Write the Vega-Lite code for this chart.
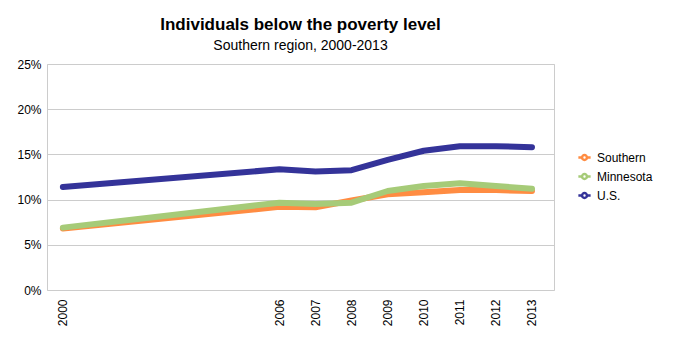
{
  "$schema": "https://vega.github.io/schema/vega-lite/v6.json",
  "autosize": {"type": "none"},
  "width": 507,
  "height": 226,
  "padding": {"left": 47, "top": 64, "right": 126, "bottom": 70},
  "background": "white",
  "config": {
    "font": "Liberation Sans",
    "view": {"stroke": "#cccccc", "strokeWidth": 1}
  },
  "title": {
    "text": "Individuals below the poverty level",
    "subtitle": "Southern region, 2000-2013",
    "anchor": "middle",
    "font": "Liberation Sans",
    "fontSize": 17,
    "fontWeight": "bold",
    "color": "#000000",
    "subtitleFont": "Liberation Sans",
    "subtitleFontSize": 14,
    "subtitleColor": "#000000",
    "subtitlePadding": 5,
    "offset": 4
  },
  "data": {
    "values": [
      {"year": 2000, "series": "Southern", "rate": 0.068},
      {"year": 2006, "series": "Southern", "rate": 0.092},
      {"year": 2007, "series": "Southern", "rate": 0.0915},
      {"year": 2008, "series": "Southern", "rate": 0.099},
      {"year": 2009, "series": "Southern", "rate": 0.106},
      {"year": 2010, "series": "Southern", "rate": 0.108},
      {"year": 2011, "series": "Southern", "rate": 0.1105},
      {"year": 2012, "series": "Southern", "rate": 0.1105},
      {"year": 2013, "series": "Southern", "rate": 0.1095},
      {"year": 2000, "series": "Minnesota", "rate": 0.069},
      {"year": 2006, "series": "Minnesota", "rate": 0.0966},
      {"year": 2007, "series": "Minnesota", "rate": 0.095},
      {"year": 2008, "series": "Minnesota", "rate": 0.0966},
      {"year": 2009, "series": "Minnesota", "rate": 0.1095},
      {"year": 2010, "series": "Minnesota", "rate": 0.115},
      {"year": 2011, "series": "Minnesota", "rate": 0.118},
      {"year": 2012, "series": "Minnesota", "rate": 0.115},
      {"year": 2013, "series": "Minnesota", "rate": 0.112},
      {"year": 2000, "series": "U.S.", "rate": 0.114},
      {"year": 2006, "series": "U.S.", "rate": 0.1335},
      {"year": 2007, "series": "U.S.", "rate": 0.131},
      {"year": 2008, "series": "U.S.", "rate": 0.1325},
      {"year": 2009, "series": "U.S.", "rate": 0.144},
      {"year": 2010, "series": "U.S.", "rate": 0.154},
      {"year": 2011, "series": "U.S.", "rate": 0.159},
      {"year": 2012, "series": "U.S.", "rate": 0.159},
      {"year": 2013, "series": "U.S.", "rate": 0.158}
    ]
  },
  "mark": {"type": "line", "strokeWidth": 6, "strokeCap": "round", "strokeJoin": "round"},
  "encoding": {
    "x": {
      "field": "year",
      "type": "quantitative",
      "scale": {"domain": [1999.56, 2013.61], "nice": false, "zero": false},
      "axis": {
        "title": null,
        "values": [2000, 2006, 2007, 2008, 2009, 2010, 2011, 2012, 2013],
        "format": "d",
        "labelAngle": -90,
        "labelAlign": "right",
        "labelBaseline": "middle",
        "labelFontSize": 12,
        "labelColor": "#000000",
        "labelPadding": 9,
        "ticks": false,
        "grid": false,
        "domain": false
      }
    },
    "y": {
      "field": "rate",
      "type": "quantitative",
      "scale": {"domain": [0, 0.25], "nice": false},
      "axis": {
        "title": null,
        "values": [0, 0.05, 0.1, 0.15, 0.2, 0.25],
        "format": ".0%",
        "labelFontSize": 12,
        "labelColor": "#000000",
        "labelPadding": 6,
        "ticks": false,
        "domain": false,
        "grid": true,
        "gridColor": "#cccccc",
        "gridWidth": 1
      }
    },
    "color": {
      "field": "series",
      "type": "nominal",
      "scale": {"domain": ["Southern", "Minnesota", "U.S."], "range": ["#FF8C42", "#A6CB78", "#343399"]},
      "legend": {
        "title": null,
        "orient": "none",
        "legendX": 530,
        "legendY": 86,
        "labelFontSize": 12,
        "labelColor": "#000000",
        "rowPadding": 4,
        "symbolType": "M-1,0H-0.4M0.4,0H1M-0.4,0A0.4,0.4 0 1,0 0.4,0A0.4,0.4 0 1,0 -0.4,0",
        "symbolSize": 150,
        "symbolStrokeWidth": 2.5,
        "symbolFillColor": "transparent",
        "labelOffset": 5
      }
    },
    "order": {"field": "series"}
  }
}
